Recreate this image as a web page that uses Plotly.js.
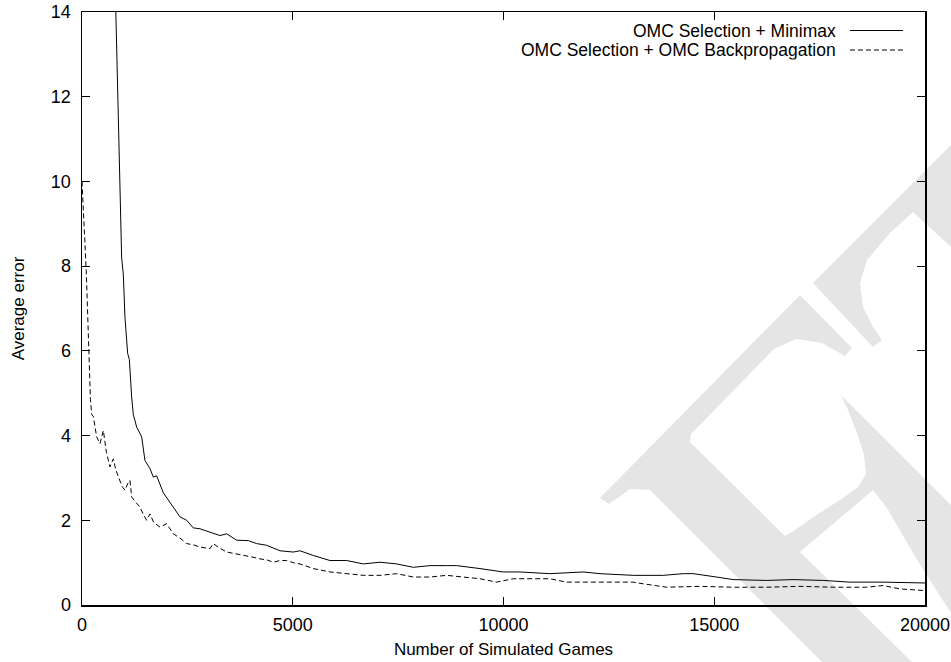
<!DOCTYPE html>
<html>
<head>
<meta charset="utf-8">
<script src="https://cdn.plot.ly/plotly-3.0.1.min.js"></script>
<style>html,body{margin:0;padding:0;background:#fff;}#chart{width:951px;height:662px;}</style>
</head>
<body>
<div id="chart"></div>
<script>
// ---- data ----
const seriesNames = ["OMC Selection + Minimax", "OMC Selection + OMC Backpropagation"];

const minimaxGames = [760, 800, 846, 901, 941, 980, 1020, 1083, 1123, 1178, 1217, 1297, 1416, 1494, 1613, 1692, 1771, 1929, 2127, 2325, 2483, 2640, 2798, 3036, 3273, 3432, 3669, 3945, 4143, 4380, 4697, 5012, 5171, 5487, 5883, 6279, 6674, 7069, 7465, 7860, 8255, 8651, 8888, 9441, 9993, 10389, 10705, 11100, 11891, 12287, 13077, 13788, 14263, 14500, 15055, 15450, 16241, 16872, 17584, 18217, 19007, 19719, 20000];
const minimaxError = [15.8, 14.0, 11.94, 9.78, 8.19, 7.81, 6.78, 5.94, 5.80, 4.91, 4.5, 4.2, 3.97, 3.41, 3.22, 3.02, 3.05, 2.65, 2.38, 2.08, 2.0, 1.82, 1.8, 1.72, 1.64, 1.68, 1.53, 1.52, 1.45, 1.41, 1.28, 1.25, 1.28, 1.17, 1.05, 1.05, 0.97, 1.01, 0.97, 0.89, 0.93, 0.93, 0.93, 0.86, 0.78, 0.78, 0.77, 0.74, 0.78, 0.74, 0.70, 0.70, 0.74, 0.74, 0.66, 0.60, 0.58, 0.60, 0.58, 0.54, 0.54, 0.53, 0.52];

const backpropGames = [0, 50, 100, 150, 200, 230, 268, 348, 427, 506, 580, 664, 743, 800, 862, 950, 1020, 1100, 1139, 1178, 1280, 1376, 1450, 1534, 1613, 1700, 1850, 2008, 2166, 2325, 2483, 2640, 2799, 3036, 3115, 3250, 3432, 3600, 3827, 4000, 4222, 4400, 4538, 4700, 4855, 5012, 5171, 5487, 5883, 6279, 6674, 7069, 7465, 7860, 8255, 8651, 9041, 9441, 9836, 10231, 10627, 11100, 11496, 12287, 13077, 13314, 13868, 14658, 15450, 16241, 17032, 17822, 18612, 19007, 19403, 20000];
const backpropError = [10.0, 9.0, 7.9, 6.4, 4.85, 4.5, 4.45, 3.97, 3.81, 4.12, 3.6, 3.26, 3.45, 3.2, 3.02, 2.8, 2.71, 2.9, 2.94, 2.55, 2.42, 2.31, 2.15, 2.0, 2.15, 1.95, 1.84, 1.92, 1.68, 1.58, 1.45, 1.42, 1.37, 1.33, 1.45, 1.35, 1.25, 1.22, 1.17, 1.14, 1.09, 1.06, 1.01, 1.05, 1.05, 1.0, 0.97, 0.86, 0.78, 0.74, 0.70, 0.70, 0.74, 0.66, 0.66, 0.70, 0.66, 0.62, 0.54, 0.62, 0.62, 0.62, 0.54, 0.54, 0.54, 0.50, 0.42, 0.44, 0.42, 0.42, 0.44, 0.42, 0.42, 0.46, 0.38, 0.34];

const xTicks = [0, 5000, 10000, 15000, 20000];
const yTicks = [0, 2, 4, 6, 8, 10, 12, 14];
const xTitle = "Number of Simulated Games";
const yTitle = "Average error";

// ---- page geometry ----
const W = 951, H = 662;
const M = {l: 82, r: 26, t: 12, b: 57};
const PW = W - M.l - M.r, PH = H - M.t - M.b;
const toPaper = (p) => [((p[0] - M.l) / PW).toFixed(5), ((H - M.b - p[1]) / PH).toFixed(5)];
const pathFrom = (pts) => "M" + pts.map(p => toPaper(p).join(",")).join(" L") + " Z";
const py = (pixY) => (H - M.b - pixY) / PH;

// background watermark outlines (decoration, page pixels)
const wmLetterT = [[813,283],[951,145],[951,247],[913,212],[890,233],[867,260],[860,283],[863,307],[873,327],[882,340],[873,347]];
const wmLetterF = [[600,498],[800,295],[852,348],[845,356],[822,343],[796,339],[774,349],[698,427],[691,434],[690,442],
  [785,536],[795,530],[815,516],[840,500],[858,487],[866,474],[864,455],[858,436],[848,410],[841,395],
  [951,505],[951,613],[922,568],[902,534],[887,508],[873,490],[800,552],[918,668],[828,668],
  [664,504],[650,490],[630,489],[609,504]];

// ---- chart ----
const FONT = "Liberation Sans, Arial, Helvetica, sans-serif";
const traces = [
  {x: minimaxGames, y: minimaxError, type: "scatter", mode: "lines", name: seriesNames[0],
   line: {color: "#000", width: 1}, showlegend: false},
  {x: backpropGames, y: backpropError, type: "scatter", mode: "lines", name: seriesNames[1],
   line: {color: "#000", width: 1, dash: "5px,3px"}, showlegend: false}
];

const axisCommon = {
  showline: true, linecolor: "#000", linewidth: 1.5, mirror: "ticks",
  ticks: "inside", ticklen: 8, tickwidth: 1.2, tickcolor: "#000",
  showgrid: false, zeroline: false, tickfont: {family: FONT, size: 18, color: "#000"},
  fixedrange: true
};

const row1 = py(30.5), row2 = py(50);
const layout = {
  width: W, height: H,
  margin: {l: M.l, r: M.r, t: M.t, b: M.b, pad: 0},
  paper_bgcolor: "#fff", plot_bgcolor: "rgba(0,0,0,0)",
  font: {family: FONT, size: 17, color: "#000"},
  xaxis: Object.assign({}, axisCommon, {range: [0, 20000], tickvals: xTicks, ticktext: xTicks.map(String),
    ticklabelstandoff: 3,
    title: {text: xTitle, font: {family: FONT, size: 17, color: "#000"}, standoff: 9}}),
  yaxis: Object.assign({}, axisCommon, {range: [0, 14], tickvals: yTicks, ticktext: yTicks.map(String),
    ticklabelstandoff: 6,
    title: {text: yTitle, font: {family: FONT, size: 17, color: "#000"}, standoff: 22}}),
  showlegend: false,
  annotations: [
    {text: seriesNames[0], xref: "paper", yref: "paper", x: 0.8968, y: row1, xanchor: "right", yanchor: "middle",
     height: 19.5, valign: "middle", showarrow: false, font: {family: FONT, size: 17.5, color: "#000"}},
    {text: seriesNames[1], xref: "paper", yref: "paper", x: 0.8968, y: row2, xanchor: "right", yanchor: "middle",
     height: 19.5, valign: "middle", showarrow: false, font: {family: FONT, size: 17.5, color: "#000"}}
  ],
  shapes: [
    {type: "path", xref: "paper", yref: "paper", layer: "below", path: pathFrom(wmLetterT), fillcolor: "#e5e5e5", line: {width: 0}},
    {type: "path", xref: "paper", yref: "paper", layer: "below", path: pathFrom(wmLetterF), fillcolor: "#e5e5e5", line: {width: 0}},
    {type: "line", xref: "paper", yref: "paper", x0: 0.911, x1: 0.974, y0: row1, y1: row1, line: {color: "#000", width: 1}},
    {type: "line", xref: "paper", yref: "paper", x0: 0.911, x1: 0.974, y0: row2, y1: row2, line: {color: "#000", width: 1, dash: "5px,3px"}}
  ]
};

Plotly.newPlot("chart", traces, layout, {staticPlot: true, displayModeBar: false});
</script>
</body>
</html>
